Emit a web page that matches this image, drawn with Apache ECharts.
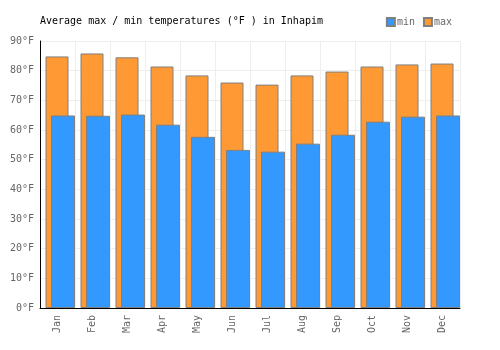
<!DOCTYPE html>
<html><head><meta charset="utf-8">
<script src="https://cdn.jsdelivr.net/npm/echarts@6/dist/echarts.min.js"></script>
<style>html,body{margin:0;padding:0;background:#fff}#c{width:500px;height:350px}</style>
</head><body><div id="c"></div>
<script>
const months = ['Jan','Feb','Mar','Apr','May','Jun','Jul','Aug','Sep','Oct','Nov','Dec'];
const minTemps = [64.9, 64.8, 65.2, 61.8, 57.7, 53.3, 52.7, 55.4, 58.4, 62.8, 64.5, 64.9];
const maxTemps = [84.8, 85.8, 84.5, 81.4, 78.4, 76.0, 75.3, 78.4, 79.7, 81.4, 82.1, 82.4];
const yTicks = [0, 10, 20, 30, 40, 50, 60, 70, 80, 90];

const font = '"DejaVu Sans Mono", monospace';
const chart = echarts.init(document.getElementById('c'));
chart.setOption({
  animation: false,
  textStyle: {fontFamily: font},
  title: {text: 'Average max / min temperatures (°F ) in Inhapim', left: 35, top: 11,
    textStyle: {fontFamily: font, fontSize: 10, fontWeight: 'normal', color: '#000'}},
  legend: {data: ['min', 'max'], right: 43, top: 12, itemWidth: 8, itemHeight: 8, itemGap: 8,
    icon: 'rect', textStyle: {fontFamily: font, fontSize: 10, color: '#666', padding: [0,0,0,-3]}},
  grid: {left: 40, right: 40, top: 41, bottom: 42},
  xAxis: {type: 'category', data: months,
    axisLine: {lineStyle: {color: '#000', width: 1}}, axisTick: {show: false},
    axisLabel: {rotate: 90, color: '#666', fontFamily: font, fontSize: 10, margin: 7},
    splitLine: {show: true, lineStyle: {color: '#eeeeee'}}},
  yAxis: {type: 'value', min: yTicks[0], max: yTicks[yTicks.length-1], interval: 10,
    axisLine: {show: true, lineStyle: {color: '#000', width: 1}}, axisTick: {show: false},
    axisLabel: {formatter: '{value}°F', color: '#666', fontFamily: font, fontSize: 10, margin: 6},
    splitLine: {lineStyle: {color: '#eeeeee'}}},
  series: [
    {name: 'pad', type: 'bar', barWidth: 23, barGap: '-76.09%', data: months.map(() => '-'), silent: true},
    {name: 'max', type: 'bar', barWidth: 23, barGap: '-76.09%', data: maxTemps,
      itemStyle: {color: '#ff9933', borderColor: '#808080', borderWidth: 1}},
    {name: 'min', type: 'bar', barWidth: 24, barGap: '-76.09%', data: minTemps,
      itemStyle: {color: '#3399ff', borderColor: '#808080', borderWidth: 1}}
  ]
});
</script></body></html>
